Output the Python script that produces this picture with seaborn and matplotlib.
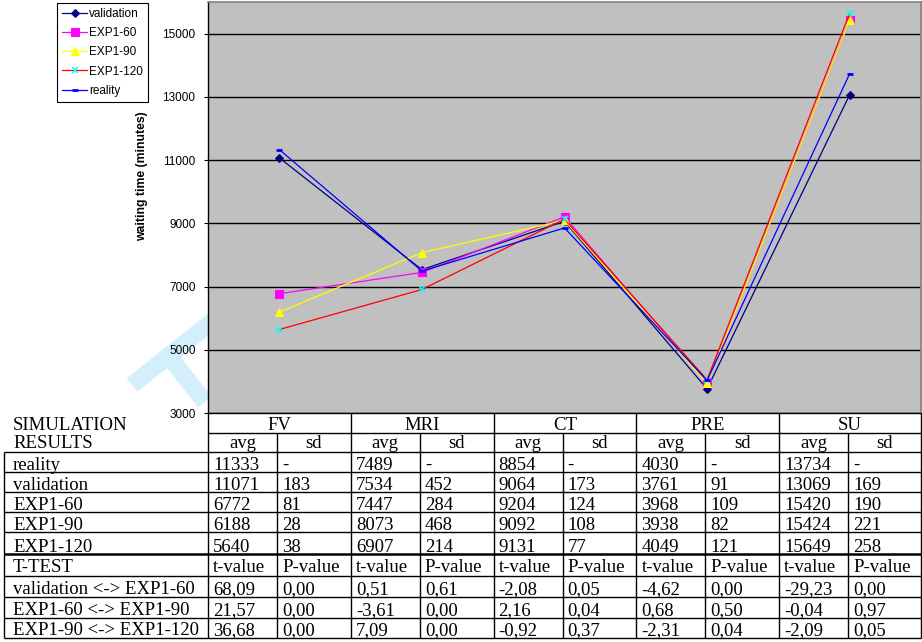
import matplotlib
matplotlib.use("Agg")
import matplotlib.pyplot as plt
import seaborn as sns

# ---- data -------------------------------------------------------------
categories = ["FV", "MRI", "CT", "PRE", "SU"]

reality_avg = [11333, 7489, 8854, 4030, 13734]
validation_avg = [11071, 7534, 9064, 3761, 13069]
validation_sd = [183, 452, 173, 91, 169]
exp60_avg = [6772, 7447, 9204, 3968, 15420]
exp60_sd = [81, 284, 124, 109, 190]
exp90_avg = [6188, 8073, 9092, 3938, 15424]
exp90_sd = [28, 468, 108, 82, 221]
exp120_avg = [5640, 6907, 9131, 4049, 15649]
exp120_sd = [38, 214, 77, 121, 258]

ttest_labels = ["validation <-> EXP1-60", "EXP1-60 <-> EXP1-90", "EXP1-90 <-> EXP1-120"]
t_val_60 = [68.09, 0.51, -2.08, -4.62, -29.23]
p_val_60 = [0.00, 0.61, 0.05, 0.00, 0.00]
t_60_90 = [21.57, -3.61, 2.16, 0.68, -0.04]
p_60_90 = [0.00, 0.00, 0.04, 0.50, 0.97]
t_90_120 = [36.68, 7.09, -0.92, -2.31, -2.09]
p_90_120 = [0.00, 0.00, 0.37, 0.04, 0.05]

# ---- styling ----------------------------------------------------------
plt.rcParams["font.family"] = ["Liberation Sans", "DejaVu Sans"]
SERIF = ["Liberation Serif", "DejaVu Serif"]

W, H = 922, 642
fig = plt.figure(figsize=(W / 100, H / 100), dpi=100)

# pixel-space overlay for the results table and the background mark
ov = fig.add_axes([0, 0, 1, 1], zorder=0)
ov.set_xlim(0, W)
ov.set_ylim(H, 0)
ov.axis("off")

# chart area
px_l, px_r, px_t, px_b = 208, 921, 2, 413
ax = fig.add_axes([px_l / W, 1 - px_b / H, (px_r - px_l) / W, (px_b - px_t) / H], zorder=1)
ax.set_facecolor("#c0c0c0")

series = [
    ("validation", validation_avg, dict(color="#000080", marker="D", ms=4.5,
                                        mfc="#000080", mec="#000080")),
    ("EXP1-60", exp60_avg, dict(color="#ff00ff", marker="s", ms=5.5,
                                mfc="#ff00ff", mec="#ff00ff")),
    ("EXP1-90", exp90_avg, dict(color="#ffff00", marker="^", ms=6,
                                mfc="#ffff00", mec="#ffff00")),
    ("EXP1-120", exp120_avg, dict(color="#ff0000", marker="x", ms=5, mew=1.1,
                                  mfc="#00ffff", mec="#00ffff")),
    ("reality", reality_avg, dict(color="#0000ff", marker="_", ms=4.5, mew=2,
                                  mfc="#0000ff", mec="#0000ff")),
]

for name, vals, st in series:
    sns.lineplot(x=categories, y=vals, ax=ax, sort=False, lw=0.9, label=name,
                 markersize=st.pop("ms"), markerfacecolor=st.pop("mfc"),
                 markeredgecolor=st.pop("mec"), **st)

handles, labels = ax.get_legend_handles_labels()
if ax.get_legend() is not None:
    ax.get_legend().remove()

ax.set_xlim(-0.5, 4.5)
ax.set_ylim(3000, 16000)
ax.set_yticks(range(3000, 16001, 2000))
ax.set_xticks([])
ax.set_xlabel("")
ax.yaxis.grid(True, color="black", lw=1)
ax.set_axisbelow(True)
ax.tick_params(axis="y", direction="out", length=3, width=0.8, labelsize=8.5, pad=6)
for side in ("top", "right"):
    ax.spines[side].set_color("#808080")
    ax.spines[side].set_linewidth(1.2)
for side in ("left", "bottom"):
    ax.spines[side].set_color("black")
    ax.spines[side].set_linewidth(1)
ax.set_ylabel("waiting time (minutes)", fontsize=8.8, fontweight="bold")
ax.yaxis.set_label_coords(-0.084, 0.577)

leg = fig.legend(handles, labels, loc="upper left",
                 bbox_to_anchor=(57 / W, 1 - 3 / H), borderaxespad=0,
                 fontsize=8.5, handlelength=2.1, handletextpad=0.15,
                 borderpad=0.45, labelspacing=0.6, fancybox=False,
                 framealpha=1, edgecolor="black")
leg.get_frame().set_linewidth(0.8)

# ---- faint background mark behind the chart ---------------------------
wm = "#d3effc"
ov.plot([132, 214], [385, 320], color=wm, lw=12.5, solid_capstyle="butt", zorder=0)
ov.plot([168.6, 205], [356, 402], color=wm, lw=12.5, solid_capstyle="butt", zorder=0)

# ---- results table ----------------------------------------------------
bounds = [px_l + i * (W - px_l) / 5 for i in range(6)]
bounds[-1] = 921
splits = [b + 69 for b in bounds[:-1]]
rows = [413, 433, 452, 472, 492, 512, 532, 554, 576, 597, 618, 638]
x_left = 4
FS = 13.5


def hline(y, x0, x1, lw=1.0):
    ov.plot([x0, x1], [y, y], color="black", lw=lw, solid_capstyle="butt", zorder=3)


def vline(x, y0, y1, lw=1.0):
    ov.plot([x, x], [y0, y1], color="black", lw=lw, solid_capstyle="butt", zorder=3)


def cell(x, y, s, ha="left"):
    ov.text(x, y, s, ha=ha, va="baseline", fontsize=FS, family=SERIF, zorder=4)


def fmt(v):
    return f"{v:.2f}".replace(".", ",")


# grid lines of the table
hline(rows[1], px_l, 921)
for r in rows[2:]:
    hline(r, x_left, 921, lw=1.8 if r == 554 else 1.0)
vline(x_left, rows[2], rows[-1])
for b in bounds:
    vline(b, rows[0], rows[-1])
for s in splits:
    vline(s, rows[1], rows[-1])

# header
cell(13, 430, "SIMULATION")
cell(13, 448, "RESULTS")
for i, c in enumerate(categories):
    cell((bounds[i] + bounds[i + 1]) / 2, rows[1] - 3, c, ha="center")
    cell((bounds[i] + splits[i]) / 2, rows[2] - 4, "avg", ha="center")
    cell((splits[i] + bounds[i + 1]) / 2, rows[2] - 4, "sd", ha="center")

# averages and standard deviations
result_rows = [
    ("reality", reality_avg, None),
    ("validation", validation_avg, validation_sd),
    ("EXP1-60", exp60_avg, exp60_sd),
    ("EXP1-90", exp90_avg, exp90_sd),
    ("EXP1-120", exp120_avg, exp120_sd),
]
for k, (name, avg, sd) in enumerate(result_rows):
    y = rows[3 + k] - 2.5
    cell(13, y, name)
    for i in range(5):
        cell(bounds[i] + 5, y, str(avg[i]))
        cell(splits[i] + 5, y, "-" if sd is None else str(sd[i]))

# t-tests
y = rows[8] - 4
cell(13, y, "T-TEST")
for i in range(5):
    cell(bounds[i] + 5, y, "t-value")
    cell(splits[i] + 5, y, "P-value")

tests = [(t_val_60, p_val_60), (t_60_90, p_60_90), (t_90_120, p_90_120)]
for k, (label, (tv, pv)) in enumerate(zip(ttest_labels, tests)):
    y = rows[9 + k] - 3
    cell(13, y, label)
    for i in range(5):
        cell(bounds[i] + 5, y, fmt(tv[i]))
        cell(splits[i] + 5, y, fmt(pv[i]))

fig.savefig("out.png", dpi=100)
